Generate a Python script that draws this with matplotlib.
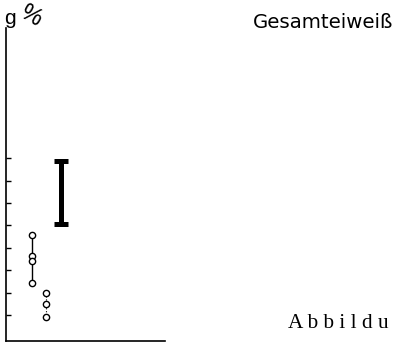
import matplotlib
matplotlib.use("Agg")
import matplotlib.pyplot as plt

# ===== data (g %) =====
grp1_vals = [4.57, 3.62, 3.42, 2.44]     # open circles, solid connector
grp2_vals = [1.98, 1.49, 0.92]           # open circles, dotted connector
bar_range = [5.06, 7.89]                 # thick range bar
y_ticks = [1, 2, 3, 4, 5, 6, 7, 8]

title = "Gesamteiweiß"
unit_g = "g"
unit_pct = "%"
caption = "A b b i l d u"   # truncated at the page edge in the scan

# x positions of the three columns
x1, x2, x3 = 1.64, 2.54, 3.45

fig = plt.figure(figsize=(3.96, 3.48), dpi=100)
ax = fig.add_axes([0.0139, 0.0201, 0.403, 0.899])

ax.plot([x1] * len(grp1_vals), grp1_vals, color="black", lw=1.0,
        marker="o", ms=4.5, mfc="white", mec="black", mew=1.0)
ax.plot([x2] * len(grp2_vals), grp2_vals, color="black", lw=0.8, ls=":",
        marker="o", ms=4.5, mfc="white", mec="black", mew=1.0)
ax.plot([x3, x3], bar_range, color="black", lw=3.6, solid_capstyle="butt")
ax.plot([x3, x3], bar_range, ls="none", marker="_", ms=9.5, mew=3.6,
        color="black")

ax.set_xlim(0, 10)
ax.set_ylim(-0.16, 13.8)
ax.set_yticks(y_ticks)
ax.set_yticklabels([])
ax.set_xticks([])
ax.tick_params(axis="y", direction="in", length=3.6, width=1.0)
for s in ["top", "right"]:
    ax.spines[s].set_visible(False)
ax.spines["left"].set_linewidth(1.2)
ax.spines["bottom"].set_linewidth(1.2)

fig.text(10 / 396, 1 - 19 / 348, unit_g, fontsize=15,
         ha="center", va="center", family="Liberation Sans")
fig.text(30 / 396, 1 - 16 / 348, unit_pct, fontsize=17, rotation=-30,
         ha="center", va="center", family="Liberation Sans")
fig.text(253 / 396, 1 - 22 / 348, title, fontsize=14.2,
         ha="left", va="center", family="DejaVu Sans")
fig.text(288 / 396, 1 - 323 / 348, caption, fontsize=15.3,
         ha="left", va="center", family="Liberation Serif")

fig.savefig("out.png", dpi=100)
